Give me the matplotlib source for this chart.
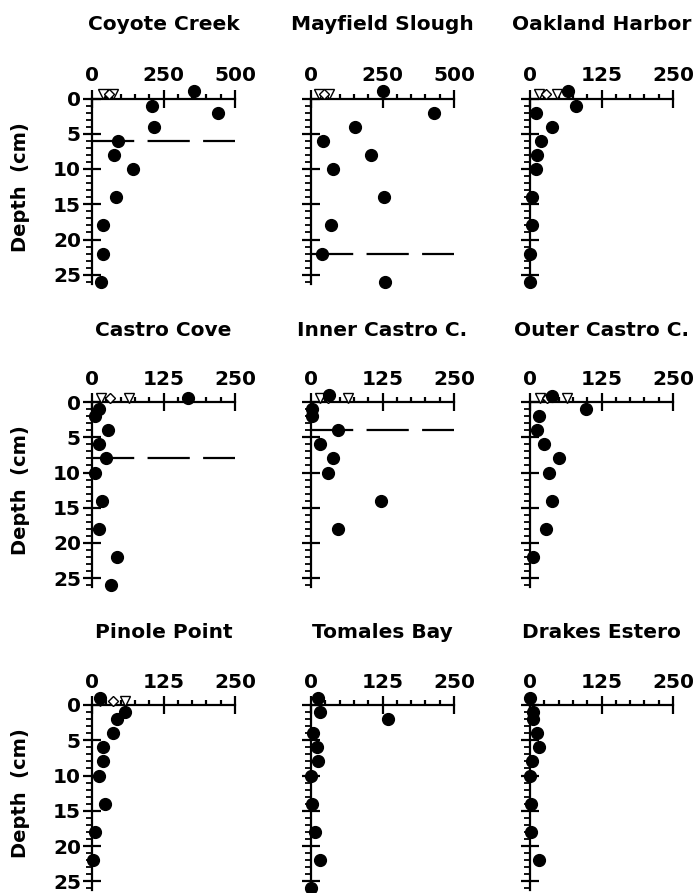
import matplotlib
matplotlib.use('Agg')
import matplotlib.pyplot as plt
from matplotlib.ticker import FixedLocator

plt.rcParams['font.family'] = ['DejaVu Sans']
plt.rcParams['font.weight'] = 'bold'

# ---------------- data ----------------
sites = ["Coyote Creek", "Mayfield Slough", "Oakland Harbor",
         "Castro Cove", "Inner Castro C.", "Outer Castro C.",
         "Pinole Point", "Tomales Bay", "Drakes Estero"]
xmax = [500, 500, 250, 250, 250, 250, 250, 250, 250]

coyote_depth = [-1, 1, 2, 4, 6, 8, 10, 14, 18, 22, 26]
coyote_conc = [357, 209, 442, 217, 92, 77, 145, 84, 40, 40, 30]
mayfield_depth = [-1, 2, 4, 6, 8, 10, 14, 18, 22, 26]
mayfield_conc = [252, 429, 154, 43, 210, 78, 254, 69, 37, 257]
oakland_depth = [-1, 1, 2, 4, 6, 8, 10, 14, 18, 22, 26]
oakland_conc = [66, 80, 10, 38, 19, 13, 10, 3, 3, 0, 0]
castro_depth = [-0.6, 1, 2, 4, 6, 8, 10, 14, 18, 22, 26]
castro_conc = [167, 13, 6, 28, 12, 25, 5, 18, 13, 43, 33]
inner_depth = [-1, 1, 2, 4, 6, 8, 10, 14, 18]
inner_conc = [32, 1, 1, 48, 16, 38, 29, 123, 47]
outer_depth = [-0.9, 1, 2, 4, 6, 8, 10, 14, 18, 22]
outer_conc = [38, 98, 15, 12, 25, 50, 33, 38, 28, 5]
pinole_depth = [-1, 1, 2, 4, 6, 8, 10, 14, 18, 22]
pinole_conc = [14, 58, 44, 37, 20, 19, 12, 22, 6, 2]
tomales_depth = [-1, 1, 2, 4, 6, 8, 10, 14, 18, 22, 26]
tomales_conc = [12, 16, 134, 3, 10, 13, 0, 1, 7, 16, 0]
drakes_depth = [-1, 1, 2, 4, 6, 8, 10, 14, 18, 22]
drakes_conc = [0, 6, 6, 13, 15, 3, 0, 1, 1, 15]

# open symbols plotted at the surface
surface_depth = -0.6
tri_conc = [[38, 74], [28, 62], [15, 48], [16, 64], [16, 64], [17, 64],
            [14, 58], [], []]
dia_conc = [[60], [44], [28], [31], [30], [30], [37], [], []]

# dashed reference depth (None = no line)
dash_depth = [6, 22, None, 8, 4, None, None, None, None]

depth_ticks = [0, 5, 10, 15, 20, 25]

depths = [coyote_depth, mayfield_depth, oakland_depth, castro_depth,
          inner_depth, outer_depth, pinole_depth, tomales_depth, drakes_depth]
concs = [coyote_conc, mayfield_conc, oakland_conc, castro_conc,
         inner_conc, outer_conc, pinole_conc, tomales_conc, drakes_conc]

# ---------------- layout ----------------
W, H = 695, 893
fig = plt.figure(figsize=(W / 100, H / 100), dpi=100)

col_x0 = [92, 311, 530]      # pixel of x = 0
row_y0 = [98.5, 402, 705]    # pixel of depth = 0
title_y = [25, 330, 633]
axis_w = 143.0
pxcm = 7.05
xl, xr = 0.12, 1.06
yt, yb = -2.2, 27.5

for i, name in enumerate(sites):
    r, c = divmod(i, 3)
    xm = xmax[i]
    x0 = col_x0[c]
    y0 = row_y0[r]
    left = x0 - xl * axis_w
    width = (xl + xr) * axis_w
    top = y0 + yt * pxcm
    height = (yb - yt) * pxcm
    ax = fig.add_axes([left / W, 1 - (top + height) / H, width / W, height / H])
    ax.set_xlim(-xl * xm, xr * xm)
    ax.set_ylim(yb, yt)
    ax.patch.set_alpha(0)

    for s in ['bottom', 'right']:
        ax.spines[s].set_visible(False)
    ax.spines['left'].set_position(('data', 0))
    ax.spines['top'].set_position(('data', 0))
    ax.spines['left'].set_bounds(0, 26.3)
    ax.spines['top'].set_bounds(0, xm)
    for s in ['left', 'top']:
        ax.spines[s].set_linewidth(1.6)

    ax.xaxis.set_ticks_position('top')
    ax.yaxis.set_ticks_position('left')
    xmaj = [0, xm / 2, xm]
    ax.xaxis.set_major_locator(FixedLocator(xmaj))
    ax.xaxis.set_minor_locator(FixedLocator([xm / 10 * k for k in range(1, 10) if k != 5]))
    ax.set_xticklabels([f"{v:g}" for v in xmaj])
    ax.yaxis.set_major_locator(FixedLocator(depth_ticks))
    ax.yaxis.set_minor_locator(FixedLocator([k for k in range(1, 27) if k % 5 != 0]))

    ax.tick_params(axis='x', which='major', direction='inout', length=13,
                   width=1.6, pad=3, labelsize=14.5)
    ax.tick_params(axis='x', which='minor', direction='out', length=3.5,
                   width=1.6)
    ax.tick_params(axis='y', which='major', direction='inout', length=13,
                   width=1.6, pad=1.5, labelsize=14.5, labelleft=(c == 0))
    ax.tick_params(axis='y', which='minor', direction='out', length=4,
                   width=1.3)
    for lab in ax.get_xticklabels() + ax.get_yticklabels():
        lab.set_fontweight('bold')

    if dash_depth[i] is not None:
        ax.plot([0, xm], [dash_depth[i], dash_depth[i]], color='black',
                lw=1.6, linestyle=(0, (19, 6)), clip_on=False, zorder=2)

    if tri_conc[i]:
        ax.plot(tri_conc[i], [surface_depth] * len(tri_conc[i]), 'v',
                ms=7, mfc='white', mec='black', mew=1.0, clip_on=False,
                zorder=3)
    if dia_conc[i]:
        ax.plot(dia_conc[i], [surface_depth] * len(dia_conc[i]), 'D',
                ms=5.5, mfc='white', mec='black', mew=1.0, clip_on=False,
                zorder=3)
    ax.plot(concs[i], depths[i], 'o', ms=8.5, color='black',
            clip_on=False, zorder=4)

    fig.text((x0 + axis_w / 2) / W, 1 - title_y[r] / H, name,
             ha='center', va='center', fontsize=14.5, fontweight='bold')
    if c == 0:
        fig.text(21 / W, 1 - (y0 + 12.5 * pxcm) / H, "Depth  (cm)",
                 ha='center', va='center', rotation=90, fontsize=14,
                 fontweight='bold')

fig.savefig('out.png', dpi=100)
